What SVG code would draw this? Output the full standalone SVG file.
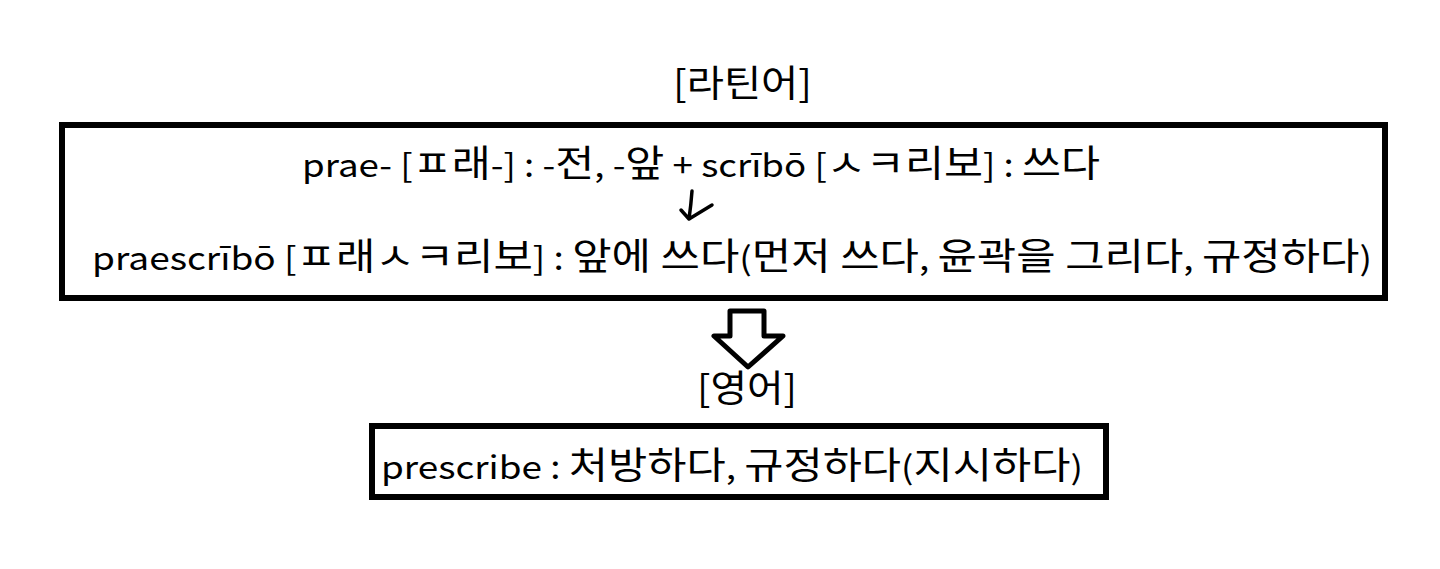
<svg xmlns="http://www.w3.org/2000/svg" width="1440" height="569" viewBox="0 0 1440 569">
<style>
.t{font-family:"Noto Sans CJK KR","Noto Sans",sans-serif;fill:#000;font-size:32px}
.k{font-size:37px}
.box{fill:#fff;stroke:#000;stroke-width:6}
.ln{fill:none;stroke:#000;stroke-linecap:round;stroke-linejoin:round}
</style>
<rect width="1440" height="569" fill="#fff"/>
<g id="latin-title">
<text class="t" x="673" y="97" textLength="139" lengthAdjust="spacingAndGlyphs" style="font-size:37px">[라틴어]</text>
</g>
<g id="latin-box">
<rect class="box" x="62" y="125" width="1323" height="173"/>
<text class="t" x="302" y="177" textLength="798" lengthAdjust="spacingAndGlyphs">prae- [<tspan class="k">ㅍ래</tspan>-] : -<tspan class="k">전</tspan>, -<tspan class="k">앞</tspan> + scrībō [<tspan class="k">ㅅㅋ리보</tspan>] : <tspan class="k">쓰다</tspan></text>
<text class="t" x="92" y="270" textLength="1280" lengthAdjust="spacingAndGlyphs">praescrībō [<tspan class="k">ㅍ래ㅅㅋ리보</tspan>] : <tspan class="k">앞에 쓰다</tspan>(<tspan class="k">먼저 쓰다</tspan>, <tspan class="k">윤곽을 그리다</tspan>, <tspan class="k">규정하다</tspan>)</text>
</g>
<g id="english-title">
<text class="t" x="697" y="402" textLength="100" lengthAdjust="spacingAndGlyphs" style="font-size:37px">[영어]</text>
</g>
<g id="english-box">
<rect class="box" x="372" y="426" width="734" height="71"/>
<text class="t" x="381" y="479" textLength="702" lengthAdjust="spacingAndGlyphs">prescribe : <tspan class="k">처방하다</tspan>, <tspan class="k">규정하다</tspan>(<tspan class="k">지시하다</tspan>)</text>
</g>
<g id="connectors">
<path class="ln" stroke-width="3.5" d="M692,191 Q691,205 689,219 M681,210 L689,219 L712,205"/>
<polygon class="ln" stroke-width="5" fill="#fff" points="730,311 764,311 764,336 783,336 748,367 714,336 730,336"/>
</g>
</svg>
